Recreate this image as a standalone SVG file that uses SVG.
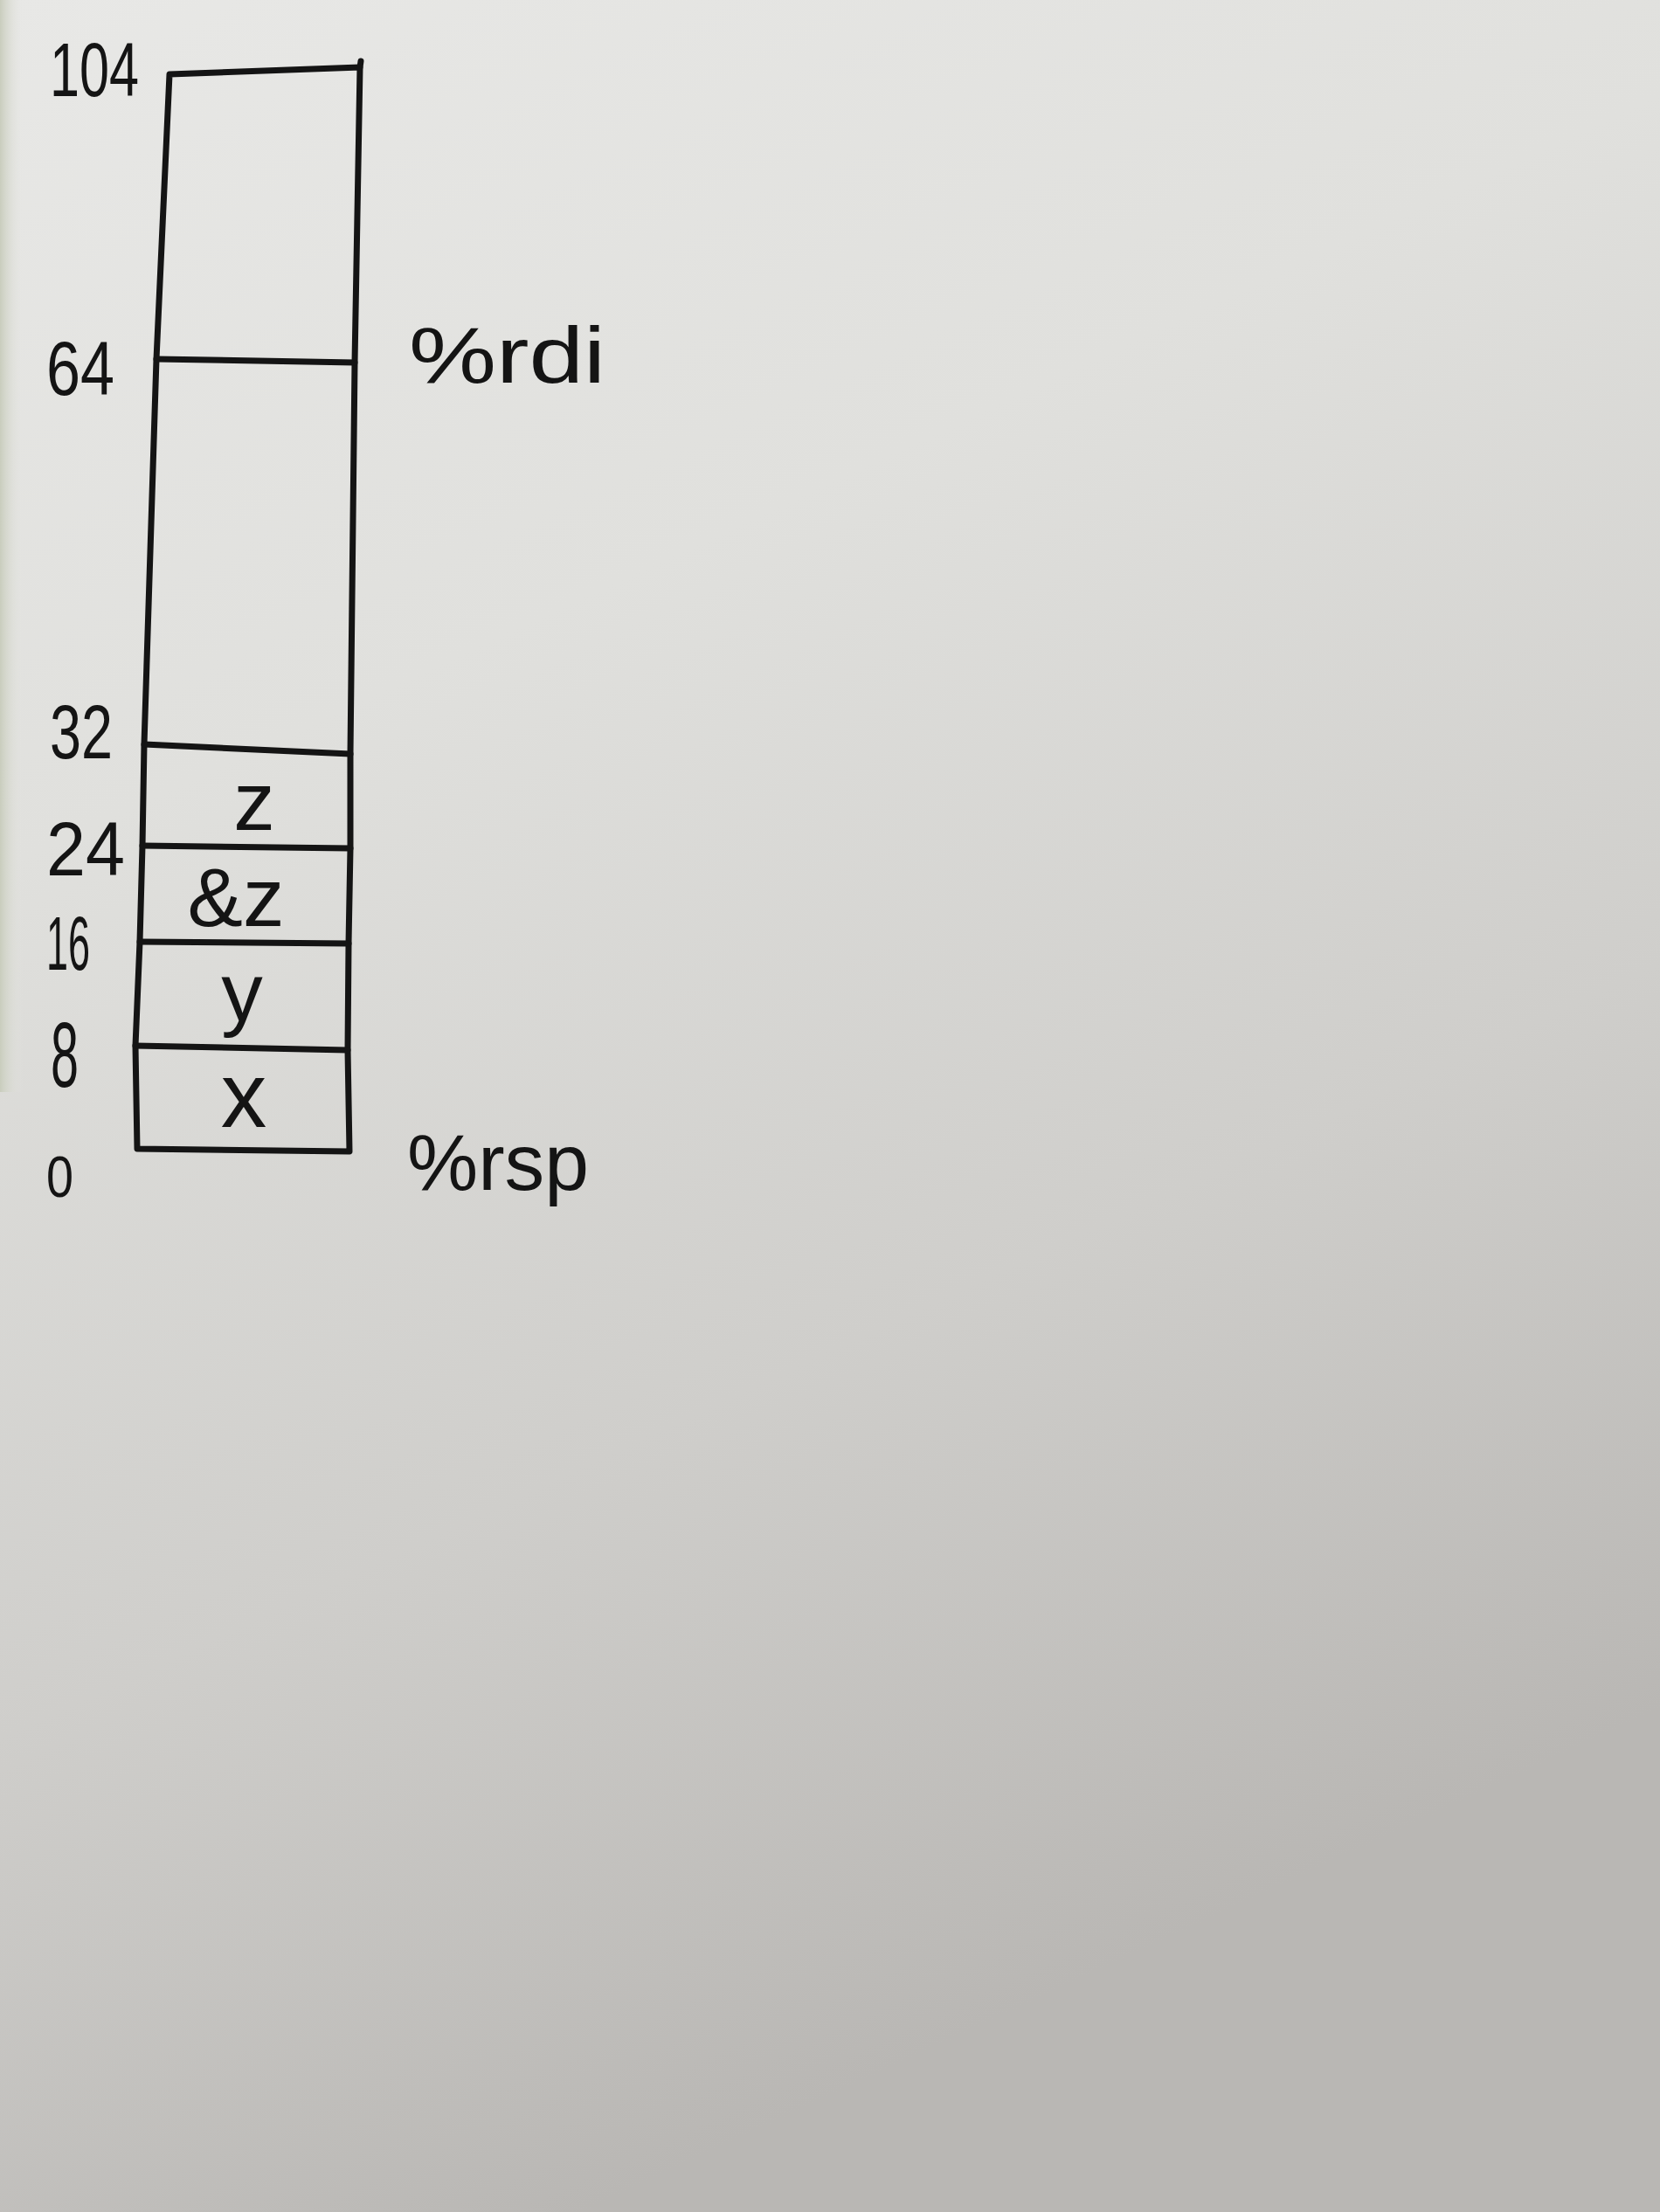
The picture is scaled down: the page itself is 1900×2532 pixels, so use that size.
<svg xmlns="http://www.w3.org/2000/svg" width="1900" height="2532" viewBox="0 0 1900 2532">
<defs>
<linearGradient id="paper" x1="0" y1="0" x2="0.35" y2="1">
<stop offset="0" stop-color="#e8e8e6"/>
<stop offset="0.35" stop-color="#e0e0dd"/>
<stop offset="0.7" stop-color="#cfcecb"/>
<stop offset="1" stop-color="#b9b7b4"/>
</linearGradient>
<linearGradient id="edge" x1="0" y1="0" x2="1" y2="0">
<stop offset="0" stop-color="#c9cdbd"/>
<stop offset="1" stop-color="#e6e6e3" stop-opacity="0"/>
</linearGradient>
<style>
.ln{stroke:#141414;stroke-width:7;fill:none;stroke-linecap:round;stroke-linejoin:round}
.num{font-family:"Liberation Sans","DejaVu Sans",sans-serif;font-size:88px;fill:#141414}
.lbl{font-family:"Liberation Sans","DejaVu Sans",sans-serif;font-size:90px;fill:#141414}
.cell{font-family:"Liberation Sans","DejaVu Sans",sans-serif;font-size:95px;fill:#141414;text-anchor:middle}
</style>
</defs>
<rect x="0" y="0" width="1900" height="2532" fill="url(#paper)"/>
<rect x="0" y="0" width="26" height="1250" fill="url(#edge)"/>

<g id="stack-frame">
<path class="ln" d="M194,85 L412,77 L406,415 L401,863 L401,971 L399,1080 L398,1202 L400,1318 L157,1315 L155,1197 L160,1078 L163,968 L165,852 L179,411 Z"/>
<path class="ln" d="M412,77 L413,70"/>
</g>

<g id="dividers">
<path class="ln" d="M179,411 L406,415"/>
<path class="ln" d="M165,852 L401,863"/>
<path class="ln" d="M163,968 L401,971"/>
<path class="ln" d="M160,1078 L399,1080"/>
<path class="ln" d="M155,1197 L398,1202"/>
</g>

<g id="offsets">
<text class="num" x="57" y="110" textLength="102" lengthAdjust="spacingAndGlyphs">104</text>
<text class="num" x="53" y="452" textLength="78" lengthAdjust="spacingAndGlyphs">64</text>
<text class="num" x="57" y="868" textLength="72" lengthAdjust="spacingAndGlyphs">32</text>
<text class="num" x="53" y="1002" textLength="90" lengthAdjust="spacingAndGlyphs">24</text>
<text class="num" x="53" y="1110" textLength="50" lengthAdjust="spacingAndGlyphs">16</text>
<text class="num" x="58" y="1244" textLength="32" lengthAdjust="spacingAndGlyphs" style="font-size:105px">8</text>
<text class="num" x="53" y="1370" textLength="31" lengthAdjust="spacingAndGlyphs" style="font-size:66px">0</text>
</g>

<g id="registers">
<text class="lbl" x="468" y="438" textLength="225" lengthAdjust="spacingAndGlyphs">%rdi</text>
<text class="lbl" x="466" y="1362" textLength="208" lengthAdjust="spacingAndGlyphs">%rsp</text>
</g>

<g id="cell-104-64"></g>
<g id="cell-64-32"></g>
<g id="cell-z"><text class="cell" x="291" y="950">z</text></g>
<g id="cell-amp-z"><text class="cell" x="270" y="1060">&amp;z</text></g>
<g id="cell-y"><text class="cell" x="277" y="1168">y</text></g>
<g id="cell-x"><text class="cell" x="279" y="1290" style="font-size:105px">x</text></g>
</svg>
